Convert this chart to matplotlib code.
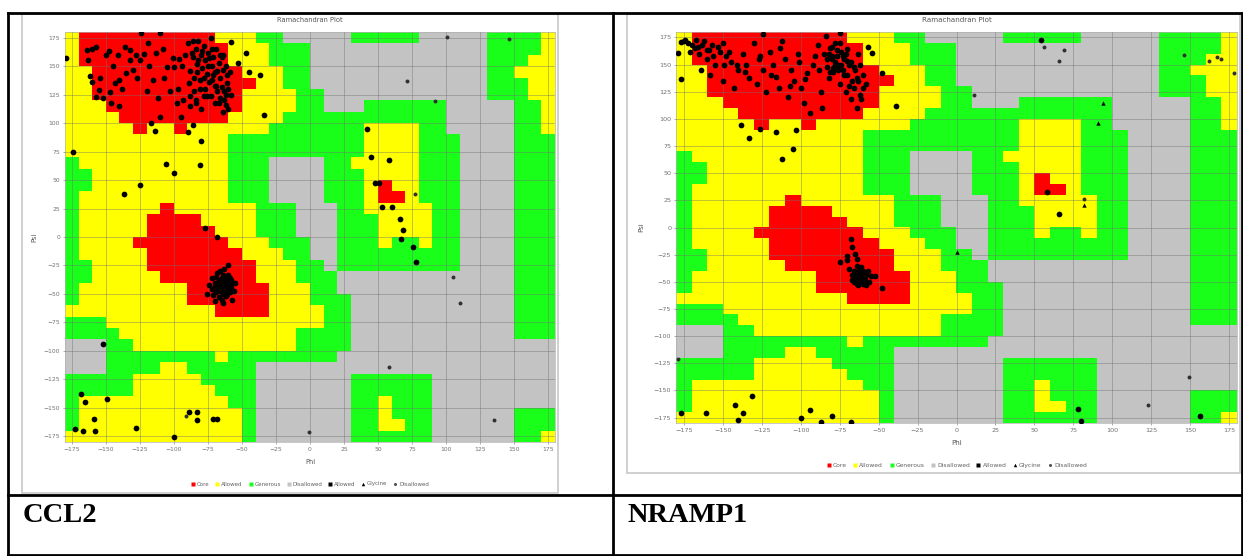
import numpy as np
import matplotlib
matplotlib.use("Agg")
import matplotlib.pyplot as plt
from matplotlib.colors import ListedColormap
from matplotlib.lines import Line2D
from matplotlib.patches import Rectangle

# Ramachandran background map, 10 degree cells, top row = psi 170..180, left col = phi -180..-170
# R core, Y allowed, G generous, . disallowed
region_rows = [
    "YRRRRRRRRRRYYYGG.....GGGGG.....GGGGY",
    "YRRRRRRRRRRRYYYGGG.............GGGGY",
    "YRRRRRRRRRRRYYYGGG.............GGGYY",
    "YYRRRRRRRRRRRYYYGG.............GGYYY",
    "YYRRRRRRRRRRRRYYGG.............GGGYY",
    "YYRRRRRRRRRRRYYYYGG............GGGYY",
    "YYYRRRRRRRRRRYYYYGG...GGGGGG.....GGY",
    "YYYYRRRRRRRRYYYYGGGGGGGGGGGG.....GGY",
    "YYYYYRYYRYYYYYYGGGGGGGYYYYGG.....GGY",
    "YYYYYYYYYYYYGGGGGGGGGGYYYYGGG....GGG",
    "YYYYYYYYYYYYGGGGGGGGGGYYYYGGG....GGG",
    "GYYYYYYYYYYYGGG....GGYYYYYGGG....GGG",
    "GGYYYYYYYYYYGGG....GGGYYYYGGG....GGG",
    "GGYYYYYYYYYYGGG....GGGYRYYGGG....GGG",
    "GYYYYYYYYYYYGGG....GGGYRRYGGG....GGG",
    "GYYYYYYRYYYYYYGGG...GGYYYYYGG....GGG",
    "GYYYYYRRRRYYYYGGG...GGGYYYYGG....GGG",
    "GYYYYYRRRRRYYYGGG...GGGYYYYGG....GGG",
    "GYYYYRRRRRRRYYYGGG..GGGYGGYGG....GGG",
    "GYYYYYRRRRRRRYYYGG..GGGGGGGGG....GGG",
    "GGYYYYRRRRRRRRYYYGG.GGGGGGGGG....GGG",
    "GGYYYYYRRRRRRRYYYGGG.............GGG",
    "GYYYYYYYYRRRRRRYYYGG.............GGG",
    "GYYYYYYYYRRRRRRYYYGGG............GGG",
    "YYYYYYYYYYYRRRRYYYYGG............GGG",
    "GGGYYYYYYYYYYYYYYYYGG............GGG",
    "GGGGYYYYYYYYYYYYYGGGG............GGG",
    "...GGYYYYYYYYYYYYGGGG...............",
    "...GGGGGGGGYGGGGGGGG................",
    "...GGGGYYGGGGG......................",
    "GGGGGYYYYYGGGG.......GGGGGG.........",
    "GGGGGYYYYYYGGG.......GGGGGG.........",
    "GYYYYYYYYYYYGG.......GGYGGG.........",
    "GYYYYYYYYYYYYG.......GGYGGG......GGG",
    "GYYYYYYYYYYYYG.......GGYYGG......GGG",
    "YYYYYYYYYYYYYG.......GGGGGG......GGY",
]
region_code = {'.': 0, 'G': 1, 'Y': 2, 'R': 3}
region_colors = ['#c3c3c3', '#1aff1a', '#ffff00', '#ff0000']

tick_vals = list(range(-175, 176, 25))

# ---- CCL2 (phi, psi) ----
ccl2_beta_phi = [-179, -124, -110, -164, -157, -136, -132, -162, -160, -157, -143, -125, -122, -115, -112,
                 -105, -100, -150, -148, -155, -152, -147, -140, -135, -130, -128, -118, -108, -103, -98,
                 -96, -94, -92, -90, -88, -86, -85, -84, -83, -82, -81, -80, -79, -78, -77, -76, -75,
                 -74, -73, -72, -71, -70, -69, -68, -67, -66, -65, -64, -63, -62, -61, -60, -64, -70,
                 -88, -95, -110, -120, -140, -117, -86, -72, -66, -78, -84, -62,
                 -89, -87, -85, -83, -81, -79, -77, -75, -73, -71, -69, -67, -65, -63, -61, -86, -82,
                 -78, -74, -70, -66, -62, -84, -80, -76, -72, -68, -64, -60, -59, -88, -58,
                 -145, -138, -132, -127, -119, -113, -107, -101, -97, -93, -160, -163, -154, -146, -141,
                 -58, -47, -53, -45, -37, -34]
ccl2_beta_psi = [157, 179, 179, 164, 167, 167, 164, 141, 136, 123, 135, 155, 161, 138, 122,
                 149, 149, 160, 163, 129, 122, 127, 138, 144, 147, 160, 150, 165, 128, 118,
                 156, 150, 160, 170, 146, 158, 140, 165, 152, 172, 130, 160, 148, 168, 155, 143, 162,
                 136, 175, 150, 158, 145, 165, 128, 153, 140, 132, 147, 120, 125, 135, 112, 110, 118,
                 124, 105, 105, 128, 115, 100, 98, 138, 160, 124, 118, 150,
                 135, 162, 128, 145, 138, 163, 130, 150, 124, 142, 133, 118, 158, 128, 142, 172, 155,
                 140, 157, 133, 122, 116, 120, 112, 124, 165, 146, 160, 130, 145, 115, 125,
                 150, 130, 155, 140, 170, 162, 140, 157, 130, 120, 165, 155, 140, 118, 160,
                 171, 162, 153, 145, 142, 107]
ccl2_alpha_phi = [-66, -64, -62, -60, -67, -65, -63, -61, -68, -66, -64, -70, -72, -58, -59, -62, -67,
                  -71, -69, -63, -60, -56, -74, -65, -61, -68, -66, -63, -57, -70, -60, -64, -72, -58,
                  -76, -55, -62, -60, -64, -66, -58, -61, -65, -69, -63, -67, -70, -59, -77, -68]
ccl2_alpha_psi = [-30, -33, -36, -38, -38, -41, -43, -45, -44, -47, -50, -40, -46, -42, -48, -52, -53,
                  -51, -35, -28, -25, -47, -42, -36, -40, -32, -44, -39, -55, -56, -33, -58, -36, -38,
                  -50, -40, -44, -46, -38, -42, -45, -50, -55, -48, -47, -40, -43, -36, 8, 0]
ccl2_other_phi = [-174, -106, -81, -100, -125, -137, -114, -80, -90,
                  -152, -168, -165, -149, -159, -173, -167, -158, -128, -100, -89, -83, -83, -71, -68,
                  42, 45, 58, 48, 51, 53, 60, 66, 68, 67, 76, 78]
ccl2_other_psi = [75, 64, 63, 56, 46, 38, 93, 84, 92,
                  -94, -138, -145, -142, -160, -169, -170, -170, -168, -176, -154, -154, -161, -160, -160,
                  95, 70, 68, 47, 47, 26, 26, 16, 6, -2, -9, -22]
ccl2_out_phi = [101, 146, 71, 92, 77, 105, 110, 58, 135, -1, -91]
ccl2_out_psi = [176, 174, 137, 119, 38, -35, -58, -114, -161, -171, -157]

# ---- NRAMP1 (phi, psi) ----
nramp_beta_phi = [-179, -177, -177, -174, -57, -54, -48, -39,
                  -172, -175, -170, -168, -165, -162, -160, -157, -155, -152, -150, -148, -145, -158,
                  -150, -143, -140, -137, -135, -133, -130, -128, -126, -124, -122, -120, -118, -116,
                  -114, -112, -110, -108, -106, -104, -102, -100, -98, -96, -94, -92, -89, -87, -85,
                  -84, -83, -82, -81, -80, -79, -78, -77, -76, -75, -74, -73, -72, -71, -70, -69, -68,
                  -67, -66, -65, -64, -62, -60, -58, -63, -86, -124, -75, -78, -80, -76, -70, -166, -160,
                  -82, -80, -78, -77, -76, -75, -74, -73, -72, -71, -79, -81, -83, -70, -69, -68, -66,
                  -64, -62, -60, -61, -63, -167, -163, -159, -156, -153, -149, -146, -171, -164, -141,
                  -136, -127, -119, -113, -107, -101, -97, -91, -88]
nramp_beta_psi = [161, 137, 171, 173, 166, 161, 142, 112,
                  170, 172, 168, 165, 160, 172, 155, 168, 150, 162, 170, 158, 152, 140,
                  135, 128, 145, 160, 150, 138, 170, 132, 158, 145, 125, 162, 150, 139,
                  128, 172, 155, 120, 145, 135, 160, 128, 115, 142, 105, 150, 168, 125, 160,
                  176, 148, 138, 165, 155, 143, 170, 158, 150, 132, 162, 145, 155, 125, 140, 150, 118,
                  135, 128, 145, 110, 122, 140, 132, 160, 110, 178, 179, 150, 158, 147, 153, 166, 163,
                  160, 166, 152, 163, 145, 170, 150, 158, 140, 160, 147, 143, 155, 164, 130, 152, 148,
                  138, 150, 128, 118, 135, 173, 168, 163, 158, 166, 150, 162, 162, 145, 150,
                  143, 155, 140, 165, 130, 152, 137, 158, 145]
nramp_alpha_phi = [-68, -67, -65, -75, -70, -64, -62, -60, -66, -63, -61, -58, -65, -62, -60, -67, -64,
                   -59, -63, -66, -57, -61, -69, -55, -52, -70, -64, -48, -63, -61, -65, -59, -62, -64,
                   -60, -67, -56, -58]
nramp_alpha_psi = [-11, -18, -24, -32, -30, -35, -38, -40, -40, -43, -46, -44, -47, -50, -52, -44, -41,
                   -48, -53, -50, -40, -36, -38, -45, -45, -26, -29, -56, -47, -42, -44, -45, -48, -52,
                   -49, -48, -50, -53]
nramp_other_phi = [-177, -161, -142, -140, -137, -131, -100, -94, -87, -80, -68,
                   -138, -133, -126, -116, -103, -112, -105, 54, 58, 66, 78, 80, 156]
nramp_other_psi = [-171, -171, -163, -177, -171, -155, -175, -168, -179, -174, -179,
                   94, 82, 91, 88, 90, 63, 72, 173, 33, 12, -167, -178, -174]
nramp_gly_phi = [94, 91, 82, 0]
nramp_gly_psi = [115, 96, 21, -23]
nramp_out_phi = [56, 66, 69, 11, 146, 162, 167, 170, 178, 149, 123, -179, 82]
nramp_out_psi = [166, 153, 163, 122, 159, 153, 157, 155, 142, -138, -163, -121, 26]

legend_labels = ['Core', 'Allowed', 'Generous', 'Disallowed', 'Allowed', 'Glycine', 'Disallowed']

W, H = 1243, 556
fig = plt.figure(figsize=(W / 100, H / 100), dpi=100)

bg = fig.add_axes([0, 0, 1, 1])
bg.set_xlim(0, W)
bg.set_ylim(H, 0)
bg.axis('off')

# screenshot panels
bg.add_patch(Rectangle((22, 14), 536, 479, fc='white', ec='#c8c8c8', lw=1.2))
bg.add_patch(Rectangle((627, 14), 613, 459, fc='white', ec='#c8c8c8', lw=1.2))

# table borders
lw_t = 2.0
bg.plot([8, 8], [13, 556], color='black', lw=lw_t)
bg.plot([613, 613], [13, 556], color='black', lw=lw_t)
bg.plot([1242, 1242], [13, 556], color='black', lw=lw_t)
bg.plot([8, 1243], [13, 13], color='black', lw=lw_t)
bg.plot([8, 1243], [495, 495], color='black', lw=lw_t)
bg.plot([8, 1243], [555, 555], color='black', lw=lw_t)

bg.text(23, 522, 'CCL2', family='Liberation Serif', weight='bold', fontsize=20.5, va='baseline')
bg.text(628, 522, 'NRAMP1', family='Liberation Serif', weight='bold', fontsize=20.5, va='baseline')

grid = np.array([[region_code[c] for c in r] for r in region_rows])
cmap = ListedColormap(region_colors)


def px_axes(x0, y0, x1, y1):
    return fig.add_axes([x0 / W, 1 - y1 / H, (x1 - x0) / W, (y1 - y0) / H])


def rama(ax, groups, out_phi, out_psi, gly_phi, gly_psi, hpx, fs):
    ax.imshow(grid, cmap=cmap, vmin=0, vmax=3, extent=[-180, 180, -180, 180],
              origin='upper', aspect='auto', interpolation='nearest', zorder=0)
    ax.set_xlim(-180, 180)
    ax.set_ylim(-180, 180)
    ax.set_xticks(tick_vals)
    ax.set_yticks(tick_vals)
    ax.grid(True, color='#707070', lw=0.5, alpha=0.6)
    ax.set_axisbelow(False)
    for phi, psi in groups:
        ax.scatter(phi, psi, s=17, c='black', linewidths=0, zorder=4)
    ax.scatter(out_phi, out_psi, s=8, c='#303030', linewidths=0, zorder=4)
    if gly_phi:
        ax.scatter(gly_phi, gly_psi, s=10, c='black', marker='^', linewidths=0, zorder=4)
    ax.tick_params(labelsize=fs, colors='#707070', length=1.5, width=0.4, pad=2)
    for s in ax.spines.values():
        s.set_color('#b0b0b0')
        s.set_linewidth(0.5)
    ax.text(0.5, 1 + 12 / hpx, 'Ramachandran Plot', transform=ax.transAxes,
            ha='center', va='center', fontsize=fs + 0.5, color='#555555')
    ax.text(0.5, -20 / hpx, 'Phi', transform=ax.transAxes, ha='center', va='center',
            fontsize=fs + 0.5, color='#555555')
    ax.text(-0.062, 0.5, 'Psi', transform=ax.transAxes, ha='center', va='center',
            rotation=90, fontsize=fs + 0.5, color='#555555')
    handles = [
        Line2D([], [], ls='none', marker='s', mfc='#ff0000', mec='none', ms=2.2),
        Line2D([], [], ls='none', marker='s', mfc='#ffff00', mec='none', ms=2.2),
        Line2D([], [], ls='none', marker='s', mfc='#1aff1a', mec='none', ms=2.2),
        Line2D([], [], ls='none', marker='s', mfc='#c3c3c3', mec='none', ms=2.2),
        Line2D([], [], ls='none', marker='s', mfc='black', mec='none', ms=2.5),
        Line2D([], [], ls='none', marker='^', mfc='black', mec='none', ms=2.5),
        Line2D([], [], ls='none', marker='o', mfc='#505050', mec='none', ms=2.2),
    ]
    leg = ax.legend(handles, legend_labels, loc='center', bbox_to_anchor=(0.5, -42 / hpx),
                    ncol=7, fontsize=fs - 0.3, frameon=False, handlelength=0.8,
                    handletextpad=0.3, columnspacing=1.0)
    for t in leg.get_texts():
        t.set_color('#606060')


ax1 = px_axes(65, 32, 555, 442)
rama(ax1, [(ccl2_beta_phi, ccl2_beta_psi), (ccl2_alpha_phi, ccl2_alpha_psi),
           (ccl2_other_phi, ccl2_other_psi)],
     ccl2_out_phi, ccl2_out_psi, [], [], 410, 4.3)

ax2 = px_axes(676, 32, 1237, 423)
rama(ax2, [(nramp_beta_phi, nramp_beta_psi), (nramp_alpha_phi, nramp_alpha_psi),
           (nramp_other_phi, nramp_other_psi)],
     nramp_out_phi, nramp_out_psi, nramp_gly_phi, nramp_gly_psi, 391, 4.6)

fig.savefig('out.png', dpi=100)
